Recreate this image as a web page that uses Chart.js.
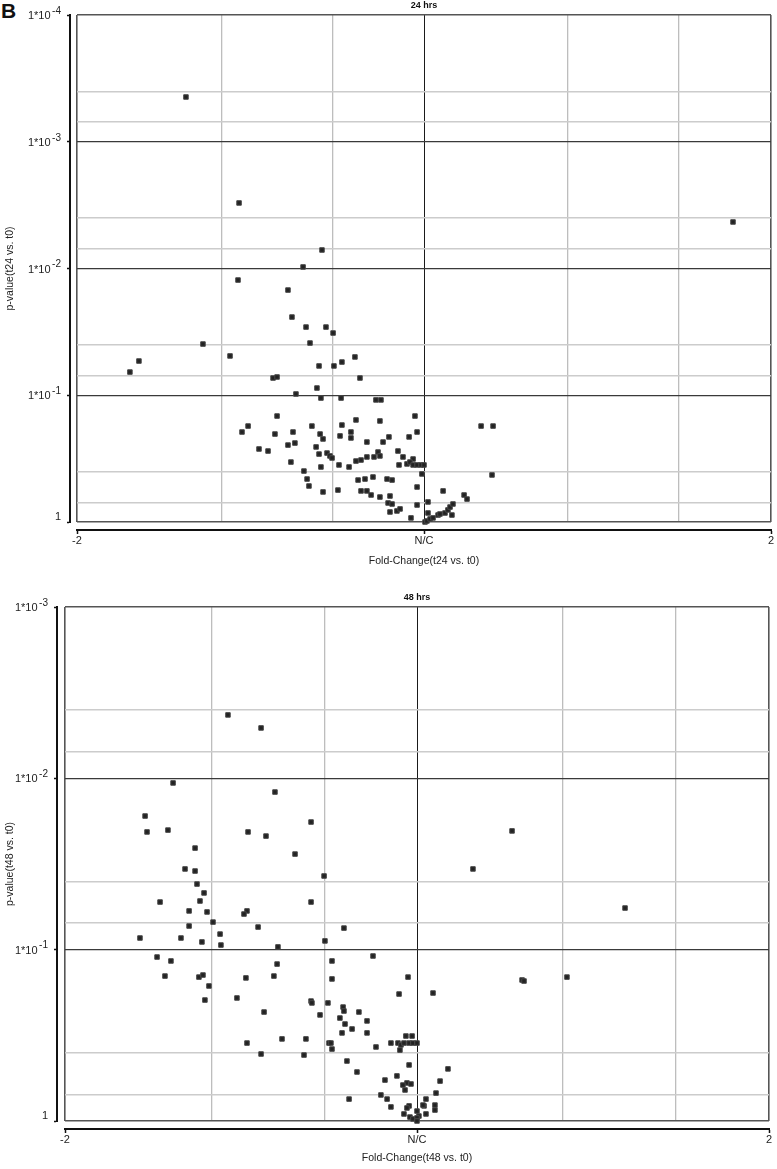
<!DOCTYPE html>
<html>
<head>
<meta charset="utf-8">
<script src="https://cdn.jsdelivr.net/npm/chart.js@4/dist/chart.umd.min.js"></script>
<style>
  body { margin: 0; background: #fff; }
  #lbl { position: absolute; left: 1px; top: 0; font: bold 21px 'Liberation Sans', Arial, sans-serif; line-height: 21px; color: #111; }
  .box { position: absolute; left: 0; }
</style>
</head>
<body>
<div id="lbl">B</div>
<div class="box" style="top:0"><canvas id="c24" width="777" height="572"></canvas></div>
<div class="box" style="top:575px"><canvas id="c48" width="777" height="594"></canvas></div>
<script>
var F = "'Liberation Sans', Arial, sans-serif";

// fold change axis: gridlines and labelled ticks
var xGrid = [-2, -1.167, -0.526, 0, 0.83, 1.47, 2];
var xTickVals = [-2, 0, 2];
var xTickLabels = ['-2', 'N/C', '2'];

// y is -log10(p); minor lines at p = 0.7 and 0.4 of each decade
var yGrid24 = [0, 0.155, 0.398, 1, 1.155, 1.398, 2, 2.155, 2.398, 3, 3.155, 3.398, 4];
var yTicks24 = [0, 1, 2, 3, 4];
var yTickBase24 = ['1', '1*10', '1*10', '1*10', '1*10'];
var yTickExp24 = ['', '-1', '-2', '-3', '-4'];

var yGrid48 = [0, 0.155, 0.398, 1, 1.155, 1.398, 2, 2.155, 2.398, 3];
var yTicks48 = [0, 1, 2, 3];
var yTickBase48 = ['1', '1*10', '1*10', '1*10'];
var yTickExp48 = ['', '-1', '-2', '-3'];

// 24 hrs
var fc24 = [
  -1.372, 1.781, -1.066, -0.588, -0.697, -1.072, -0.784, -0.761, -0.680, -0.565,
  -0.524, -0.657, -1.274, -1.643, -1.695, -1.118, -0.605, -0.519, -0.473, -0.398,
  -0.870, -0.847, -0.369, -0.617, -0.738, -0.594, -0.478, -0.277, -0.248, -0.847,
  -0.392, -0.254, -0.052, -1.014, -1.049, -0.755, -0.646, -0.473, -0.421, -0.040,
  -0.859, -0.599, -0.582, -0.484, -0.421, -0.329, -0.236, -0.202, -0.086, -0.784,
  -0.744, -0.622, -0.951, -0.899, -0.605, -0.559, -0.542, -0.530, -0.265, -0.254,
  -0.288, -0.329, -0.363, -0.392, -0.150, -0.121, -0.063, -0.144, -0.098, -0.081,
  -0.063, -0.040, -0.017, 0.000, -0.767, -0.490, -0.432, -0.594, -0.692, -0.012,
  -0.674, -0.663, -0.380, -0.340, -0.294, -0.213, -0.184, -0.040, -0.582, -0.496,
  -0.363, -0.329, -0.305, -0.254, -0.196, -0.207, -0.184, -0.040, 0.023, 0.110,
  -0.196, -0.156, -0.138, -0.075, 0.006, 0.017, 0.035, 0.052, 0.023, 0.081,
  0.092, 0.121, 0.138, 0.150, 0.167, 0.161, 0.231, 0.248, 0.329, 0.398,
  0.392
];
var logp24 = [
  3.353, 2.367, 2.517, 2.146, 2.012, 1.909, 1.830, 1.617, 1.538, 1.538,
  1.491, 1.412, 1.404, 1.270, 1.183, 1.310, 1.231, 1.231, 1.262, 1.302,
  1.136, 1.144, 1.136, 1.057, 1.010, 0.978, 0.978, 0.963, 0.963, 0.836,
  0.805, 0.797, 0.836, 0.757, 0.710, 0.710, 0.757, 0.765, 0.710, 0.710,
  0.694, 0.694, 0.655, 0.679, 0.663, 0.631, 0.631, 0.671, 0.671, 0.607,
  0.623, 0.592, 0.576, 0.560, 0.536, 0.544, 0.521, 0.505, 0.552, 0.521,
  0.513, 0.513, 0.489, 0.481, 0.560, 0.513, 0.497, 0.450, 0.458, 0.473,
  0.450, 0.450, 0.450, 0.450, 0.473, 0.450, 0.434, 0.434, 0.402, 0.379,
  0.339, 0.284, 0.331, 0.339, 0.355, 0.339, 0.331, 0.276, 0.237, 0.252,
  0.245, 0.245, 0.213, 0.197, 0.205, 0.150, 0.142, 0.134, 0.158, 0.245,
  0.079, 0.087, 0.103, 0.032, 0.000, 0.008, 0.024, 0.032, 0.071, 0.055,
  0.063, 0.071, 0.095, 0.118, 0.142, 0.055, 0.213, 0.181, 0.757, 0.757,
  0.371
];

// 48 hrs
var fc48 = [
  -1.074, -0.886, -1.386, -0.807, -1.545, -1.534, -1.415, -0.960, -0.858, -0.602,
  -1.261, -0.693, -1.318, -1.261, -0.528, 0.318, 0.540, 1.182, -1.250, -1.210,
  -1.460, -1.233, -0.602, -1.295, -1.193, -0.966, -0.983, -1.159, -1.295, -0.903,
  -0.415, -1.574, -1.341, -1.119, -1.222, -1.114, -0.523, -0.790, -1.477, -1.398,
  -0.795, -0.483, -0.250, -1.432, -1.239, -1.216, -1.182, -1.205, -0.972, -0.813,
  -0.483, -0.051, -0.102, 0.091, -1.023, -0.602, -0.597, -0.506, -0.869, -0.551,
  -0.420, -0.415, -0.330, -0.438, -0.284, -0.409, -0.369, -0.426, -0.284, -0.966,
  -0.767, -0.631, -0.500, -0.489, -0.483, -0.886, -0.642, -0.233, -0.148, -0.108,
  -0.091, -0.074, -0.045, -0.023, 0.000, -0.063, -0.028, -0.097, -0.398, -0.341,
  -0.045, -0.182, -0.114, -0.057, -0.034, -0.080, -0.068, 0.176, 0.131, 0.108,
  -0.386, -0.205, -0.170, -0.148, -0.045, -0.057, 0.051, 0.040, 0.034, 0.102,
  0.102, 0.000, -0.074, -0.040, -0.023, 0.011, 0.000, 0.000, 0.051, 0.597,
  0.608, 0.852
];
var logp48 = [
  2.370, 2.294, 1.973, 1.920, 1.780, 1.687, 1.698, 1.687, 1.663, 1.745,
  1.593, 1.558, 1.471, 1.459, 1.430, 1.471, 1.693, 1.243, 1.383, 1.331,
  1.278, 1.284, 1.278, 1.226, 1.220, 1.226, 1.208, 1.161, 1.138, 1.132,
  1.126, 1.068, 1.068, 1.091, 1.045, 1.027, 1.051, 1.016, 0.957, 0.934,
  0.916, 0.934, 0.963, 0.846, 0.840, 0.852, 0.788, 0.706, 0.835, 0.846,
  0.829, 0.840, 0.741, 0.747, 0.718, 0.700, 0.689, 0.689, 0.636, 0.619,
  0.665, 0.642, 0.636, 0.601, 0.584, 0.566, 0.537, 0.514, 0.514, 0.455,
  0.479, 0.479, 0.455, 0.455, 0.420, 0.391, 0.385, 0.432, 0.455, 0.455,
  0.444, 0.455, 0.455, 0.455, 0.455, 0.496, 0.496, 0.414, 0.350, 0.286,
  0.327, 0.239, 0.263, 0.222, 0.216, 0.210, 0.181, 0.304, 0.233, 0.163,
  0.128, 0.152, 0.128, 0.082, 0.088, 0.076, 0.128, 0.088, 0.093, 0.093,
  0.064, 0.058, 0.041, 0.023, 0.012, 0.029, 0.018, 0.000, 0.041, 0.823,
  0.817, 0.840
];

var FRAME = '#555555';

function yLabelPlugin(bases, exps) {
  return {
    id: 'yLabels',
    afterDraw: function(chart) {
      var s = chart.scales.yAxis, ctx = chart.ctx;
      ctx.save();
      ctx.fillStyle = '#222';
      ctx.textAlign = 'right';
      ctx.textBaseline = 'middle';
      s.ticks.forEach(function(t, i) {
        var y = s.getPixelForValue(t.value);
        var r = s.right - 9;
        if (!exps[i]) {
          ctx.font = '11px ' + F;
          ctx.fillText(bases[i], r, y - 5);
          return;
        }
        ctx.font = '10px ' + F;
        ctx.fillText(exps[i], r, y - 4);
        var w = ctx.measureText(exps[i]).width;
        ctx.font = '11px ' + F;
        ctx.fillText(bases[i], r - w - 1.5, y + 1);
      });
      ctx.restore();
    }
  };
}

function volcano(id, o) {
  var pts = o.fc.map(function(x, i) { return {x: x, y: o.logp[i]}; });
  return new Chart(document.getElementById(id), {
    type: 'scatter',
    data: {
      datasets: [{
        data: pts,
        xAxisID: 'x',
        yAxisID: 'y',
        pointStyle: 'rect',
        radius: 3.2,
        backgroundColor: '#222222',
        borderColor: '#484848',
        borderWidth: 1,
        clip: false
      }]
    },
    options: {
      responsive: false,
      animation: false,
      events: [],
      layout: { padding: { left: 0, right: o.padRight, top: 0, bottom: 0 } },
      plugins: { legend: { display: false }, tooltip: { enabled: false } },
      scales: {
        xTop: {
          type: 'linear', position: 'top', min: -2, max: 2,
          grid: { display: false }, border: { display: false }, ticks: { display: false },
          title: { display: true, text: o.title, color: '#111',
                   font: { family: F, size: 9, weight: 'bold' },
                   padding: { top: o.titleTop, bottom: 0 } },
          afterFit: function(s) { s.height = o.topH; }
        },
        x: {
          type: 'linear', position: 'bottom', weight: 0, min: -2, max: 2,
          afterBuildTicks: function(s) { s.ticks = xGrid.map(function(v) { return {value: v}; }); },
          ticks: { display: false },
          grid: {
            drawTicks: false,
            color: function(c) {
              var v = c.tick ? c.tick.value : 0;
              if (v === -2 || v === 2) return FRAME;
              return v === 0 ? '#1a1a1a' : '#bdbdbd';
            },
            lineWidth: function(c) {
              var v = c.tick ? c.tick.value : 0;
              if (v === -2 || v === 2) return 1.6;
              return v === 0 ? 1 : 1.3;
            }
          },
          border: { display: false },
          afterFit: function(s) { s.height = 8; }
        },
        xAxis: {
          type: 'linear', position: 'bottom', weight: 1, min: -2, max: 2,
          afterBuildTicks: function(s) { s.ticks = xTickVals.map(function(v) { return {value: v}; }); },
          ticks: {
            callback: function(v, i) { return xTickLabels[i]; },
            font: { family: F, size: 11 }, color: '#222', padding: 0,
            maxRotation: 0, autoSkip: false
          },
          grid: { display: true, drawOnChartArea: false, drawTicks: true, tickLength: 4, tickColor: '#111', tickWidth: 1.5 },
          border: { display: true, color: '#111', width: 2 },
          title: { display: true, text: o.xTitle, color: '#222',
                   font: { family: F, size: 10.5 }, padding: { top: 0, bottom: 4.7 } },
          afterFit: function(s) { s.height = o.xAxisH; }
        },
        y: {
          type: 'linear', position: 'left', weight: 0, min: 0, max: o.yMax,
          afterBuildTicks: function(s) { s.ticks = o.yGrid.map(function(v) { return {value: v}; }); },
          ticks: { display: false },
          grid: {
            drawTicks: false,
            color: function(c) {
              var v = c.tick ? c.tick.value : 0;
              if (v === 0 || v === o.yMax) return FRAME;
              return Number.isInteger(v) ? '#3a3a3a' : '#cccccc';
            },
            lineWidth: function(c) {
              var v = c.tick ? c.tick.value : 0;
              if (v === 0 || v === o.yMax) return 1.6;
              return Number.isInteger(v) ? 1.2 : 1.6;
            }
          },
          border: { display: false },
          afterFit: function(s) { s.width = o.gap; }
        },
        yAxis: {
          type: 'linear', position: 'left', weight: 1, min: 0, max: o.yMax,
          afterBuildTicks: function(s) { s.ticks = o.yTicks.map(function(v) { return {value: v}; }); },
          ticks: { display: false },
          grid: { display: true, drawOnChartArea: false, drawTicks: true, tickLength: 3, tickColor: '#111', tickWidth: 1.5 },
          border: { display: true, color: '#111', width: 2 },
          title: { display: true, text: o.yTitle, color: '#222',
                   font: { family: F, size: 10.5 }, padding: { top: 3.7, bottom: 0 } },
          afterFit: function(s) { s.width = o.yAxisW; }
        }
      }
    },
    plugins: [yLabelPlugin(o.yBase, o.yExp)]
  });
}

volcano('c24', {
  fc: fc24, logp: logp24, yMax: 4, yGrid: yGrid24, yTicks: yTicks24,
  yBase: yTickBase24, yExp: yTickExp24,
  title: '24 hrs', xTitle: 'Fold-Change(t24 vs. t0)', yTitle: 'p-value(t24 vs. t0)',
  padRight: 6, topH: 15, titleTop: 0, yAxisW: 70, gap: 7, xAxisH: 42
});

volcano('c48', {
  fc: fc48, logp: logp48, yMax: 3, yGrid: yGrid48, yTicks: yTicks48,
  yBase: yTickBase48, yExp: yTickExp48,
  title: '48 hrs', xTitle: 'Fold-Change(t48 vs. t0)', yTitle: 'p-value(t48 vs. t0)',
  padRight: 8, topH: 32, titleTop: 17.6, yAxisW: 57, gap: 8, xAxisH: 40
});
</script>
</body>
</html>
